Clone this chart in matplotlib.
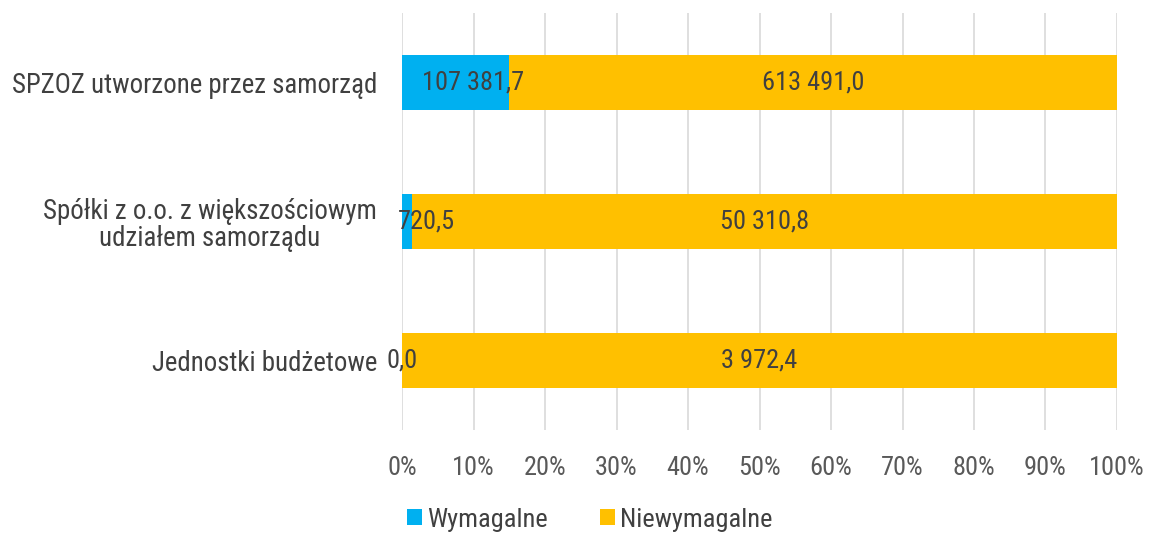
import numpy as np
import matplotlib.pyplot as plt
from matplotlib import font_manager

# Dane (tys. zł)
kategorie = ['Jednostki budżetowe',
             'Spółki z o.o. z większościowym\nudziałem samorządu',
             'SPZOZ utworzone przez samorząd']
wymagalne = np.array([0.0, 720.5, 107381.7])
niewymagalne = np.array([3972.4, 50310.8, 613491.0])
etykiety_wym = ['0,0', '720,5', '107 381,7']
etykiety_niewym = ['3 972,4', '50 310,8', '613 491,0']
seria = ['Wymagalne', 'Niewymagalne']

niebieski = '#00B0F0'
zolty = '#FFC000'

# wąska czcionka, jeśli jest dostępna
waskie = [f for f in font_manager.fontManager.ttflist
          if f.stretch in ('condensed', 'semi-condensed', 'extra-condensed')
          and f.weight in (400, 'normal', 'regular') and f.style == 'normal']
kolejnosc = ['Liberation Sans Narrow', 'Roboto Condensed', 'DejaVu Sans', 'Open Sans']
wybor = None
for n in kolejnosc:
    for f in waskie:
        if f.name == n:
            wybor = f
            break
    if wybor:
        break
if wybor is None and waskie:
    wybor = waskie[0]
if wybor is not None:
    plt.rcParams['font.family'] = [wybor.name, 'DejaVu Sans']
    plt.rcParams['font.stretch'] = wybor.stretch
    rozm = 19
else:
    plt.rcParams['font.family'] = ['Liberation Sans', 'DejaVu Sans']
    rozm = 15

suma = wymagalne + niewymagalne
udz_wym = wymagalne / suma * 100
udz_niewym = niewymagalne / suma * 100

fig = plt.figure(figsize=(11.5, 5.33), dpi=100)
ax = fig.add_axes([0.3496, 0.1932, 0.6217, 0.7824])

y = np.arange(len(kategorie))
b1 = ax.barh(y, udz_wym, height=0.4, color=niebieski, label=seria[0], zorder=3)
b2 = ax.barh(y, udz_niewym, left=udz_wym, height=0.4, color=zolty, label=seria[1], zorder=3)

# przesunięcia etykiet jak w oryginale (Excel odsuwa małe etykiety)
dx_wym = [0, 2.7, 2.5]
for i in range(len(kategorie)):
    ax.text(udz_wym[i] / 2 + dx_wym[i], y[i], etykiety_wym[i], ha='center', va='center',
            fontsize=rozm, color='#404040', zorder=4)
    ax.text(udz_wym[i] + udz_niewym[i] / 2, y[i], etykiety_niewym[i], ha='center',
            va='center', fontsize=rozm, color='#404040', zorder=4)

ax.set_xlim(0, 100)
ax.set_ylim(-0.5, 2.5)
ax.set_xticks(np.arange(0, 101, 10))
ax.set_xticklabels([f'{v}%' for v in range(0, 101, 10)])
ax.set_yticks(y)
ax.set_yticklabels(kategorie)
for t in ax.get_yticklabels():
    t.set_multialignment('center')
    t.set_linespacing(1.0)
ax.tick_params(axis='y', length=0, pad=18, labelsize=rozm + 0.4, labelcolor='#404040')
ax.tick_params(axis='x', length=0, pad=19, labelsize=rozm, labelcolor='#595959')
ax.grid(axis='x', color='#D9D9D9', linewidth=1.2, zorder=0)
for s in ax.spines.values():
    s.set_visible(False)

fig.legend(handles=[b1, b2], loc='center', bbox_to_anchor=(0.513, 0.025), ncol=2,
           frameon=False, fontsize=rozm, handlelength=0.55, handleheight=0.55,
           handletextpad=0.2, columnspacing=2.0, labelcolor='#404040',
           borderpad=0, borderaxespad=0)

fig.savefig('out.png', dpi=100)
